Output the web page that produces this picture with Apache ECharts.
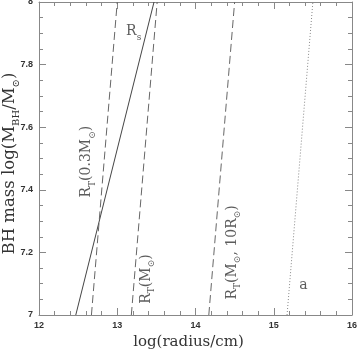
<!DOCTYPE html>
<html>
<head>
<meta charset="utf-8">
<script src="https://cdn.jsdelivr.net/npm/echarts@6/dist/echarts.min.js"></script>
<style>html,body{margin:0;padding:0;background:#fff}#c{width:357px;height:355px}</style>
</head>
<body>
<div id="c"></div>
<script>
// log(M_BH/M_sun) at the two ends of every curve
const massEnds = [7, 8];
// log(radius/cm) for each curve at those masses
const rsX = [12.47, 13.47];
const rt03X = [12.67, 13.00];
const rtSunX = [13.18, 13.51];
const rt10X = [14.17, 14.50];
const aX = [15.17, 15.50];
// x tick labels and y tick labels
const xTicks = [12, 13, 14, 15, 16];
const yTicks = [7, 7.2, 7.4, 7.6, 7.8, 8];
// annotation anchors [x, y, label, rotate]
const notes = [
  [13.21, 7.905, '{m|R}{s|s}', 0],
  [12.61, 7.49, '{m|R}{s|T}{m|(0.3M}{s|⊙}{m|)}', 90],
  [13.37, 7.115, '{m|R}{s|T}{m|(M}{s|⊙}{m|)}', 90],
  [14.47, 7.20, '{m|R}{s|T}{m|(M}{s|⊙}{m|, 10R}{s|⊙}{m|)}', 90],
  [15.38, 7.095, '{m|a}', 0]
];

const serif = 'DejaVu Serif';
const rich = {
  m: {fontFamily: serif, fontSize: 14, color: '#333', lineHeight: 20, verticalAlign: 'middle'},
  s: {fontFamily: serif, fontSize: 9, color: '#333', lineHeight: 9, verticalAlign: 'bottom'}
};
const pair = xs => xs.map((x, i) => [x, massEnds[i]]);

const chart = echarts.init(document.getElementById('c'), null, {renderer: 'canvas'});
const axisCommon = {
  axisLine: {show: true, lineStyle: {color: '#888', width: 1}},
  axisTick: {show: true, inside: true, length: 7, lineStyle: {color: '#888'}},
  splitLine: {show: false},
  minorSplitLine: {show: false}
};
const labelFont = {fontFamily: 'Liberation Sans', fontWeight: 'bold', fontSize: 9, color: '#333'};

chart.setOption({
  animation: false,
  backgroundColor: '#fff',
  grid: {left: 39, right: 5, top: 2, bottom: 40, containLabel: false, outerBoundsMode: 'none'},
  xAxis: [
    Object.assign({type: 'value', min: xTicks[0], max: xTicks[xTicks.length - 1], interval: 1, position: 'bottom',
      axisLabel: Object.assign({margin: 6, formatter: v => xTicks.includes(v) ? String(v) : ''}, labelFont),
      name: 'log(radius/cm)', nameLocation: 'middle', nameGap: 19,
      nameTextStyle: {fontFamily: serif, fontSize: 15, color: '#333', padding: [0, 14, 0, 0]}
    }, axisCommon, {minorTick: {show: true, splitNumber: 5, length: 4, lineStyle: {color: '#888'}}}),
    Object.assign({type: 'value', min: xTicks[0], max: xTicks[xTicks.length - 1], interval: 1, position: 'top',
      axisLabel: {show: false}}, axisCommon, {minorTick: {show: true, splitNumber: 5, length: 4, lineStyle: {color: '#888'}}})
  ],
  yAxis: [
    Object.assign({type: 'value', min: yTicks[0], max: yTicks[yTicks.length - 1], interval: 0.2, position: 'left',
      axisLabel: Object.assign({margin: 6, formatter: v => { const t = yTicks.find(k => Math.abs(k - v) < 1e-6); return t === undefined ? '' : String(t); }}, labelFont),
      name: '{m|BH mass log(M}{s|BH}{m|/M}{s|⊙}{m|)}', nameLocation: 'middle', nameGap: 18, nameRotate: 90,
      nameMoveOverlap: false,
      nameTextStyle: {padding: [0, 10, 0, 0], rich: {
        m: {fontFamily: serif, fontSize: 16.5, color: '#333', lineHeight: 22, verticalAlign: 'middle'},
        s: {fontFamily: serif, fontSize: 10, color: '#333', lineHeight: 10, verticalAlign: 'bottom'}
      }}
    }, axisCommon, {minorTick: {show: true, splitNumber: 4, length: 4, lineStyle: {color: '#888'}}}),
    Object.assign({type: 'value', min: yTicks[0], max: yTicks[yTicks.length - 1], interval: 0.2, position: 'right',
      axisLabel: {show: false}}, axisCommon, {minorTick: {show: true, splitNumber: 4, length: 4, lineStyle: {color: '#888'}}})
  ],
  series: [
    {type: 'line', data: pair(rsX), symbol: 'none', lineStyle: {color: '#444', width: 1, type: 'solid'}},
    {type: 'line', data: pair(rt03X), symbol: 'none', lineStyle: {color: '#666', width: 1, type: [8, 4]}},
    {type: 'line', data: pair(rtSunX), symbol: 'none', lineStyle: {color: '#666', width: 1, type: [8, 4]}},
    {type: 'line', data: pair(rt10X), symbol: 'none', lineStyle: {color: '#666', width: 1, type: [8, 4]}},
    {type: 'line', data: pair(aX), symbol: 'none', lineStyle: {color: '#888', width: 1, type: [1, 2]}},
    {type: 'scatter', symbolSize: 0, silent: true,
      data: notes.map(n => ({value: [n[0], n[1]], label: {show: true, position: 'inside', rotate: n[3], formatter: n[2], rich: rich}}))}
  ]
});
</script>
</body>
</html>
